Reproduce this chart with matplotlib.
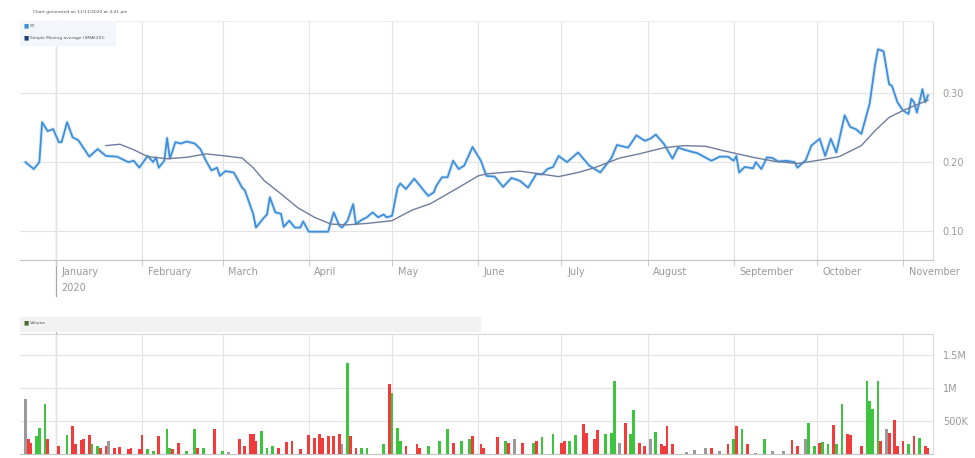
import matplotlib
matplotlib.use("Agg")
import matplotlib.pyplot as plt
import matplotlib.dates as mdates
import matplotlib.transforms as mtransforms
from datetime import datetime

# === DATA ===
price_dates = [
    "2019-12-21", "2019-12-24", "2019-12-26", "2019-12-27", "2019-12-29", "2019-12-31",
    "2020-01-02", "2020-01-03", "2020-01-05", "2020-01-07", "2020-01-09", "2020-01-13",
    "2020-01-16", "2020-01-19", "2020-01-23", "2020-01-27", "2020-01-29", "2020-01-31",
    "2020-02-03", "2020-02-05", "2020-02-06", "2020-02-07", "2020-02-09", "2020-02-10",
    "2020-02-11", "2020-02-13", "2020-02-15", "2020-02-17", "2020-02-20", "2020-02-22",
    "2020-02-24", "2020-02-26", "2020-02-28", "2020-02-29", "2020-03-02", "2020-03-05",
    "2020-03-06", "2020-03-08", "2020-03-09", "2020-03-12", "2020-03-13", "2020-03-16",
    "2020-03-17", "2020-03-18", "2020-03-20", "2020-03-22", "2020-03-23", "2020-03-25",
    "2020-03-27", "2020-03-29", "2020-03-30", "2020-04-01", "2020-04-08", "2020-04-10",
    "2020-04-12", "2020-04-13", "2020-04-15", "2020-04-17", "2020-04-18", "2020-04-20",
    "2020-04-22", "2020-04-24", "2020-04-26", "2020-04-28", "2020-04-29", "2020-05-01",
    "2020-05-03", "2020-05-04", "2020-05-06", "2020-05-09", "2020-05-14", "2020-05-16",
    "2020-05-17", "2020-05-19", "2020-05-21", "2020-05-23", "2020-05-25", "2020-05-27",
    "2020-05-30", "2020-06-02", "2020-06-04", "2020-06-07", "2020-06-10", "2020-06-13",
    "2020-06-16", "2020-06-19", "2020-06-22", "2020-06-24", "2020-06-26", "2020-06-28",
    "2020-06-30", "2020-07-03", "2020-07-07", "2020-07-11", "2020-07-15", "2020-07-19",
    "2020-07-21", "2020-07-25", "2020-07-28", "2020-07-31", "2020-08-02", "2020-08-04",
    "2020-08-07", "2020-08-10", "2020-08-12", "2020-08-16", "2020-08-19", "2020-08-24",
    "2020-08-27", "2020-08-30", "2020-09-01", "2020-09-02", "2020-09-03", "2020-09-05",
    "2020-09-08", "2020-09-09", "2020-09-11", "2020-09-13", "2020-09-15", "2020-09-17",
    "2020-09-20", "2020-09-23", "2020-09-24", "2020-09-27", "2020-09-29", "2020-10-02",
    "2020-10-04", "2020-10-06", "2020-10-08", "2020-10-11", "2020-10-13", "2020-10-15",
    "2020-10-17", "2020-10-20", "2020-10-22", "2020-10-23", "2020-10-25", "2020-10-27",
    "2020-10-28", "2020-10-30", "2020-11-01", "2020-11-03", "2020-11-04", "2020-11-05",
    "2020-11-06", "2020-11-08", "2020-11-09", "2020-11-10",
]
price_values = [
    0.200, 0.190, 0.200, 0.258, 0.245, 0.248,
    0.229, 0.229, 0.258, 0.236, 0.232, 0.208,
    0.219, 0.209, 0.208, 0.200, 0.202, 0.192,
    0.209, 0.200, 0.207, 0.192, 0.202, 0.235,
    0.205, 0.229, 0.227, 0.230, 0.227, 0.219,
    0.202, 0.188, 0.192, 0.180, 0.187, 0.185,
    0.178, 0.163, 0.159, 0.125, 0.105, 0.120,
    0.124, 0.149, 0.127, 0.125, 0.106, 0.115,
    0.105, 0.105, 0.114, 0.099, 0.099, 0.127,
    0.108, 0.105, 0.115, 0.139, 0.110, 0.116,
    0.120, 0.127, 0.120, 0.124, 0.120, 0.122,
    0.163, 0.169, 0.161, 0.176, 0.151, 0.156,
    0.166, 0.178, 0.178, 0.202, 0.190, 0.195,
    0.222, 0.202, 0.180, 0.179, 0.164, 0.177,
    0.173, 0.163, 0.183, 0.182, 0.190, 0.193,
    0.209, 0.200, 0.214, 0.195, 0.185, 0.206,
    0.225, 0.221, 0.239, 0.231, 0.234, 0.240,
    0.226, 0.205, 0.221, 0.216, 0.213, 0.202,
    0.208, 0.208, 0.202, 0.209, 0.185, 0.193,
    0.191, 0.200, 0.190, 0.207, 0.206, 0.201,
    0.202, 0.200, 0.192, 0.203, 0.224, 0.234,
    0.209, 0.234, 0.214, 0.268, 0.251, 0.248,
    0.241, 0.285, 0.343, 0.364, 0.361, 0.313,
    0.311, 0.287, 0.275, 0.270, 0.292, 0.287,
    0.272, 0.306, 0.287, 0.297,
]

sma_dates = [
    "2020-01-19", "2020-01-24", "2020-01-29", "2020-02-03", "2020-02-10", "2020-02-17",
    "2020-02-24", "2020-03-02", "2020-03-08", "2020-03-12", "2020-03-16", "2020-03-22",
    "2020-03-28", "2020-04-03", "2020-04-09", "2020-04-15", "2020-04-22", "2020-05-01",
    "2020-05-08", "2020-05-15", "2020-05-21", "2020-05-27", "2020-06-01", "2020-06-04",
    "2020-06-16", "2020-06-23", "2020-06-30", "2020-07-07", "2020-07-13", "2020-07-22",
    "2020-07-29", "2020-08-07", "2020-08-14", "2020-08-22", "2020-08-29", "2020-09-08",
    "2020-09-16", "2020-09-24", "2020-10-02", "2020-10-09", "2020-10-17", "2020-10-22",
    "2020-10-27", "2020-11-01", "2020-11-07", "2020-11-10",
]
sma_values = [
    0.224, 0.226, 0.218, 0.208, 0.205, 0.207,
    0.212, 0.209, 0.206, 0.192, 0.173, 0.154,
    0.134, 0.120, 0.110, 0.109, 0.111, 0.115,
    0.130, 0.140, 0.154, 0.168, 0.180, 0.183,
    0.187, 0.183, 0.179, 0.185, 0.192, 0.206,
    0.212, 0.221, 0.224, 0.223, 0.216, 0.207,
    0.201, 0.198, 0.203, 0.208, 0.224, 0.246,
    0.265, 0.275, 0.285, 0.290,
]

vol_dates = [
    "2019-12-21", "2019-12-22", "2019-12-23", "2019-12-25", "2019-12-26", "2019-12-28",
    "2019-12-29", "2020-01-02", "2020-01-05", "2020-01-07", "2020-01-08", "2020-01-10",
    "2020-01-11", "2020-01-13", "2020-01-14", "2020-01-16", "2020-01-17", "2020-01-19",
    "2020-01-20", "2020-01-22", "2020-01-24", "2020-01-27", "2020-01-28", "2020-01-31",
    "2020-02-01", "2020-02-03", "2020-02-05", "2020-02-07", "2020-02-10", "2020-02-11",
    "2020-02-12", "2020-02-14", "2020-02-17", "2020-02-20", "2020-02-21", "2020-02-23",
    "2020-02-27", "2020-03-01", "2020-03-03", "2020-03-07", "2020-03-09", "2020-03-11",
    "2020-03-12", "2020-03-13", "2020-03-15", "2020-03-17", "2020-03-19", "2020-03-21",
    "2020-03-24", "2020-03-26", "2020-03-29", "2020-04-01", "2020-04-03", "2020-04-05",
    "2020-04-06", "2020-04-08", "2020-04-10", "2020-04-12", "2020-04-13", "2020-04-15",
    "2020-04-16", "2020-04-18", "2020-04-20", "2020-04-22", "2020-04-28", "2020-04-30",
    "2020-05-01", "2020-05-03", "2020-05-04", "2020-05-06", "2020-05-10", "2020-05-11",
    "2020-05-14", "2020-05-18", "2020-05-21", "2020-05-23", "2020-05-26", "2020-05-29",
    "2020-05-30", "2020-06-02", "2020-06-03",
    "2020-06-08", "2020-06-11", "2020-06-12", "2020-06-14", "2020-06-17", "2020-06-21",
    "2020-06-22", "2020-06-24", "2020-06-28", "2020-07-01", "2020-07-02", "2020-07-04",
    "2020-07-06", "2020-07-09", "2020-07-10", "2020-07-13", "2020-07-14", "2020-07-17",
    "2020-07-19", "2020-07-20", "2020-07-22", "2020-07-24", "2020-07-26", "2020-07-27",
    "2020-07-29", "2020-07-31", "2020-08-02", "2020-08-04", "2020-08-06", "2020-08-07",
    "2020-08-08", "2020-08-10", "2020-08-15", "2020-08-18", "2020-08-22", "2020-08-24",
    "2020-08-27", "2020-08-30", "2020-09-01", "2020-09-02", "2020-09-04", "2020-09-06",
    "2020-09-09", "2020-09-12", "2020-09-15", "2020-09-19", "2020-09-22", "2020-09-24",
    "2020-09-27", "2020-09-28", "2020-09-30", "2020-10-02", "2020-10-03", "2020-10-05",
    "2020-10-07", "2020-10-08", "2020-10-10", "2020-10-12", "2020-10-13", "2020-10-17",
    "2020-10-19", "2020-10-20", "2020-10-21", "2020-10-23", "2020-10-24", "2020-10-26",
    "2020-10-27", "2020-10-29", "2020-10-30", "2020-11-01", "2020-11-03", "2020-11-05",
    "2020-11-07", "2020-11-09", "2020-11-10",
]
# volume in thousands of shares
vol_values = [
    840, 220, 172, 273, 399, 753, 222, 121, 288, 424, 147, 207,
    222, 288, 147, 121, 96, 121, 197, 96, 106, 71, 96, 71,
    288, 71, 45, 273, 374, 96, 71, 172, 45, 374, 96, 96,
    374, 45, 35, 222, 121, 308, 298, 197, 348, 96, 121, 96,
    183, 197, 71, 288, 247, 308, 247, 273, 273, 298, 147, 1380,
    273, 96, 96, 96, 147, 1060, 930, 399, 197, 121, 147, 96,
    121, 197, 374, 172, 197, 222, 273, 147, 96,
    258, 197, 172, 222, 172, 172, 197, 258, 298, 172, 197, 197,
    288, 460, 323, 222, 359, 298, 323, 1110, 172, 475, 298, 660,
    172, 121, 222, 339, 147, 121, 424, 147, 35, 56, 96, 85,
    45, 147, 222, 424, 374, 147, 20, 222, 45, 45, 207, 121,
    222, 475, 121, 172, 183, 147, 439, 147, 753, 298, 288, 121,
    1110, 810, 680, 1110, 197, 374, 323, 510, 121, 197, 147, 273,
    247, 121, 96,
]
# u = closed up, d = closed down, n = unchanged
vol_dir = list(
    "ndduuuddud" "dddduuddnd" "ddddduuduu" "dduududund" "dddduuuddd"
    "ddddddddnu" "dduuuduuud" "dduuuduuddd"
    "dudnduduud" "duudddduuu" "nduuddnudd" "ddnnndndud" "udnunnddnu"
    "uduuduuddd" "uuuudnddddu" "dudd"
)

month_names = ["January", "February", "March", "April", "May", "June",
               "July", "August", "September", "October", "November"]

# === LAYOUT ===
W, H = 975, 458


def box(l, t, r, b):
    return [l / W, 1 - b / H, (r - l) / W, (b - t) / H]


fig = plt.figure(figsize=(W / 100, H / 100), dpi=100)
ax = fig.add_axes(box(20, 21, 933, 259.5))
axv = fig.add_axes(box(20, 334, 933, 454))

jan1 = mdates.date2num(datetime(2020, 1, 1))
nov1 = mdates.date2num(datetime(2020, 11, 1))
ppd = (903 - 56) / (nov1 - jan1)  # pixels per day
xlim = (jan1 - (56 - 20) / ppd, nov1 + (933 - 903) / ppd)
month_ticks = [mdates.date2num(datetime(2020, m, 1)) for m in range(1, 12)]

grid_c = "#e3e3e3"
text_c = "#9a9a9a"
blue = "#3f8ed8"
sma_c = "#6f7d9c"

# === PRICE PANEL ===
px = [mdates.datestr2num(s) for s in price_dates]
sx = [mdates.datestr2num(s) for s in sma_dates]
ax.plot(px, price_values, color="#dcecfa", lw=2.8, solid_joinstyle="round", zorder=2)
ax.plot(px, price_values, color=blue, lw=1.3, solid_joinstyle="round", zorder=3)
ax.plot(sx, sma_values, color=sma_c, lw=1.0, zorder=4)

ax.set_xlim(xlim)
ax.set_ylim(0.0586, 0.405)
ax.set_yticks([0.10, 0.20, 0.30])
ax.set_yticklabels(["0.10", "0.20", "0.30"])
ax.yaxis.tick_right()
ax.tick_params(axis="y", length=0, pad=7, labelsize=7, labelcolor=text_c)
ax.set_xticks(month_ticks)
ax.set_xticklabels([])
ax.tick_params(axis="x", length=4, color="#cccccc")
ax.grid(True, color=grid_c, lw=0.8)
ax.axvline(jan1, ymin=-0.155, ymax=1, color="#a8a8a8", lw=0.9, clip_on=False, zorder=1)
ax.spines["left"].set_visible(False)
ax.spines["bottom"].set_color("#c4c4c4")
ax.spines["right"].set_color("#dcdcdc")
ax.spines["top"].set_color("#ececec")

trans = mtransforms.blended_transform_factory(ax.transData, ax.transAxes)
for m, name in zip(month_ticks, month_names):
    ax.annotate(name, xy=(m, 0), xycoords=trans, xytext=(4, -9),
                textcoords="offset points", ha="left", va="center",
                fontsize=7, color=text_c)
ax.annotate("2020", xy=(jan1, 0), xycoords=trans, xytext=(4, -20.5),
            textcoords="offset points", ha="left", va="center",
            fontsize=7, color=text_c)

# header + legend
fig.text(33 / W, 1 - 12 / H, "Chart generated on 11/11/2020 at 4:41 pm",
         fontsize=3.2, color="#555555", va="center")
fig.patches.append(plt.Rectangle((20 / W, 1 - 45 / H), 95 / W, 24 / H,
                                 transform=fig.transFigure, color="#f3f6fa", zorder=0))
fig.text(24 / W, 1 - 26 / H, "\u25a0", fontsize=4, color=blue, va="center")
fig.text(30 / W, 1 - 26 / H, "ST", fontsize=3.2, color="#555555", va="center")
fig.text(24 / W, 1 - 38 / H, "\u25a0", fontsize=4, color="#1f3f7f", va="center")
fig.text(30 / W, 1 - 38 / H, "Simple Moving average (SMA(20))", fontsize=3.2,
         color="#555555", va="center")

# === VOLUME PANEL ===
vx = [mdates.datestr2num(s) for s in vol_dates]
dir_colors = {"u": "#3ec43e", "d": "#f23b3b", "n": "#9a9a9a"}
bar_colors = [dir_colors[c] for c in vol_dir]
axv.bar(vx, [v * 1000 for v in vol_values], width=1.0, color=bar_colors, zorder=3)

axv.set_xlim(xlim)
axv.set_ylim(0, 1.818e6)
axv.set_yticks([500000, 1000000, 1500000])
axv.set_yticklabels(["500K", "1M", "1.5M"])
axv.yaxis.tick_right()
axv.tick_params(axis="y", length=0, pad=7, labelsize=7, labelcolor=text_c)
axv.set_xticks(month_ticks)
axv.set_xticklabels([])
axv.tick_params(axis="x", length=0)
axv.grid(True, color=grid_c, lw=0.8)
axv.axvline(jan1, ymin=0, ymax=1.02, color="#a8a8a8", lw=0.9, clip_on=False, zorder=1)
axv.spines["left"].set_visible(False)
axv.spines["bottom"].set_color("#c4c4c4")
axv.spines["right"].set_color("#dcdcdc")
axv.spines["top"].set_color("#d8d8d8")

fig.patches.append(plt.Rectangle((20 / W, 1 - 331 / H), 460 / W, 14 / H,
                                 transform=fig.transFigure, color="#f2f2f2", zorder=0))
fig.text(24 / W, 1 - 323 / H, "\u25a0", fontsize=4, color="#4d6b3a", va="center")
fig.text(30 / W, 1 - 323 / H, "Volume", fontsize=3.2, color="#555555", va="center")

plt.savefig("out.png", dpi=100)
